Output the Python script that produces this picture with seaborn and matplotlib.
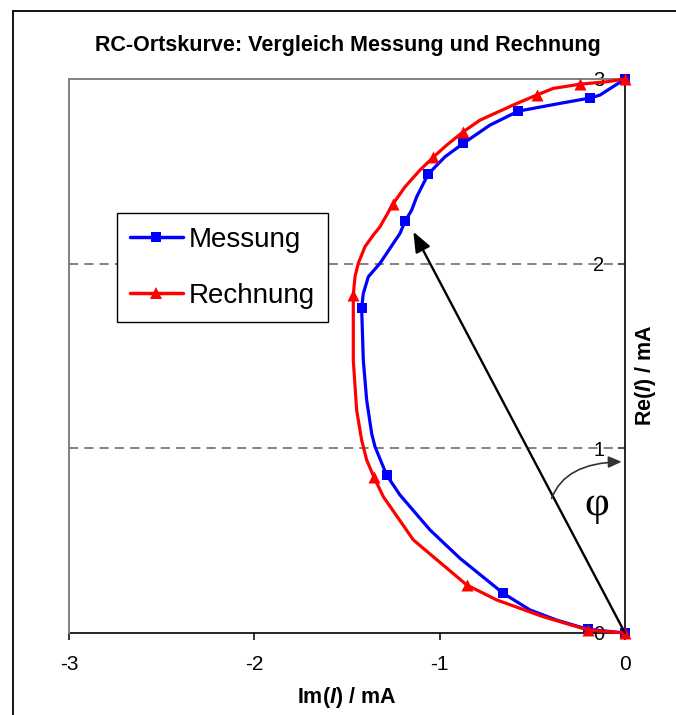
import matplotlib
matplotlib.use("Agg")
import matplotlib.pyplot as plt
import seaborn as sns
import pandas as pd
from matplotlib.lines import Line2D
from matplotlib.patches import FancyArrowPatch
from matplotlib.path import Path

# ---------------- data ----------------
meas_x = [0.0, -0.200, -0.657, -1.286, -1.421, -1.186, -1.062, -0.873, -0.576, -0.189, 0.0]
meas_y = [0.0, 0.020, 0.215, 0.855, 1.758, 2.231, 2.485, 2.651, 2.826, 2.897, 3.0]
calc_x = [0.0, -0.198, -0.854, -1.355, -1.466, -1.252, -1.035, -0.873, -0.477, -0.243, 0.0]
calc_y = [0.0, 0.016, 0.260, 0.845, 1.830, 2.323, 2.576, 2.714, 2.913, 2.972, 3.0]

meas_line_x = [0.0, -0.200, -0.369, -0.513, -0.657, -0.890, -1.052, -1.214, -1.286, -1.349,
               -1.367, -1.394, -1.412, -1.421, -1.412, -1.385, -1.322, -1.214, -1.186, -1.151,
               -1.124, -1.062, -0.971, -0.873, -0.729, -0.576, -0.351, -0.189, -0.135, 0.0]
meas_line_y = [0.0, 0.020, 0.070, 0.125, 0.215, 0.404, 0.558, 0.747, 0.855, 1.009,
               1.081, 1.262, 1.478, 1.758, 1.839, 1.929, 2.002, 2.164, 2.231, 2.290,
               2.362, 2.485, 2.579, 2.651, 2.750, 2.826, 2.868, 2.897, 2.913, 3.0]
calc_line_x = [0.0, -0.198, -0.441, -0.692, -0.854, -1.142, -1.304, -1.355, -1.394, -1.421,
               -1.448, -1.466, -1.466, -1.457, -1.439, -1.403, -1.358, -1.322, -1.252, -1.187,
               -1.106, -1.035, -0.962, -0.873, -0.783, -0.603, -0.477, -0.387, -0.243, -0.099, 0.0]
calc_line_y = [0.0, 0.016, 0.088, 0.179, 0.260, 0.504, 0.738, 0.845, 0.937, 1.045,
               1.207, 1.478, 1.830, 1.929, 2.002, 2.092, 2.155, 2.200, 2.323, 2.416,
               2.507, 2.576, 2.642, 2.714, 2.777, 2.859, 2.913, 2.949, 2.972, 2.985, 3.0]

pointer_tip = (-1.142, 2.173)          # current phasor arrow
x_ticks = [-3, -2, -1, 0]
y_ticks = [0, 1, 2, 3]
series_names = ["Messung", "Rechnung"]
title = "RC-Ortskurve: Vergleich Messung und Rechnung"

# ---------------- style ----------------
sns.set_theme(style="white")
plt.rcParams["font.family"] = ["Liberation Sans", "DejaVu Sans"]
plt.rcParams["mathtext.fontset"] = "custom"
plt.rcParams["mathtext.bf"] = "Liberation Sans:bold:italic"
plt.rcParams["text.color"] = "black"
plt.rcParams["axes.labelcolor"] = "black"
plt.rcParams["xtick.color"] = "black"
plt.rcParams["ytick.color"] = "black"

BLUE = "#0000FF"
RED = "#FF0000"

W, H = 676, 715
fig = plt.figure(figsize=(W / 100, H / 100), dpi=100)
fig.patch.set_facecolor("white")
ax = fig.add_axes([69 / W, 1 - 633 / H, (625 - 69) / W, (633 - 79) / H])
ax.set_facecolor("white")

# grid lines
for yv in [1, 2]:
    ax.axhline(yv, color="#606060", lw=1.1, ls=(0, (6, 4)), zorder=1)

# curves
sns.lineplot(x=meas_line_x, y=meas_line_y, sort=False, estimator=None, ax=ax,
             color=BLUE, lw=2.3, clip_on=False, zorder=3)
sns.scatterplot(x=meas_x, y=meas_y, ax=ax, marker="s", color=BLUE, s=50,
                linewidth=0, clip_on=False, zorder=4)
sns.lineplot(x=calc_line_x, y=calc_line_y, sort=False, estimator=None, ax=ax,
             color=RED, lw=2.3, clip_on=False, zorder=5)
sns.scatterplot(x=calc_x, y=calc_y, ax=ax, marker="^", color=RED, s=75,
                linewidth=0, clip_on=False, zorder=6)

ax.set_xlim(-3, 0)
ax.set_ylim(0, 3)

# spines
for s in ["top", "left"]:
    ax.spines[s].set_color("#808080")
    ax.spines[s].set_linewidth(1.4)
for s in ["bottom", "right"]:
    ax.spines[s].set_color("black")
    ax.spines[s].set_linewidth(1.2)
    ax.spines[s].set_zorder(2)

ax.set_xticks(x_ticks)
ax.set_xticklabels([str(v) for v in x_ticks])
ax.set_yticks(y_ticks)
ax.set_yticklabels([str(v) for v in y_ticks])
ax.tick_params(axis="x", bottom=True, top=False, direction="out", length=5,
               width=1.1, color="black", labelsize=15, pad=11, labelcolor="black")
ax.yaxis.tick_right()
ax.tick_params(axis="y", left=False, right=True, labelleft=False, labelright=True,
               direction="in", length=5, width=1.1, color="black",
               labelsize=14.5, pad=-23, labelcolor="black")
ax.grid(False)

# axis labels
ax.set_xlabel(r"Im($\mathbf{I}$) / mA", fontsize=15.5, fontweight="bold",
              va="center", ha="center", color="black")
ax.xaxis.set_label_coords(0.5, -0.117)
ax.text(1.036, 0.466, r"Re($\mathbf{I}$) / mA", transform=ax.transAxes,
        rotation=90, fontsize=15.5, fontweight="bold", ha="center", va="center",
        color="black")

# title
fig.text(348 / W, 1 - 45 / H, title, fontsize=15.5, fontweight="bold",
         ha="center", va="center", color="black")

# phasor arrow
ax.annotate("", xy=pointer_tip, xytext=(0, 0),
            arrowprops=dict(arrowstyle="-|>,head_length=0.55,head_width=0.22",
                            color="black", lw=1.7, mutation_scale=22,
                            shrinkA=0, shrinkB=0), zorder=7)

# phi angle arrow
arc = Path([(-0.396, 0.729), (-0.324, 0.922), (-0.018, 0.927)],
           [Path.MOVETO, Path.CURVE3, Path.CURVE3])
ax.add_patch(FancyArrowPatch(path=arc, arrowstyle="-|>,head_length=0.5,head_width=0.22",
                             mutation_scale=16, color="#333333", lw=1.2,
                             transform=ax.transData, zorder=7))
ax.text(-0.153, 0.693, "φ", fontsize=31, family=["Liberation Serif", "DejaVu Serif"],
        ha="center", va="center", color="black")

# legend
handles = [
    Line2D([], [], color=BLUE, lw=2.5, marker="s", markersize=7, markeredgewidth=0),
    Line2D([], [], color=RED, lw=2.5, marker="^", markersize=8.5, markeredgewidth=0),
]
leg = fig.legend(handles, series_names, loc="upper left",
                 bbox_to_anchor=(116.7 / W, 1 - 213.3 / H), borderaxespad=0,
                 fontsize=20, frameon=True, fancybox=False, framealpha=1,
                 edgecolor="black", handlelength=1.9, handletextpad=0.2,
                 labelspacing=1.08, borderpad=0.48, numpoints=1)
leg.get_frame().set_linewidth(1.0)
for t in leg.get_texts():
    t.set_color("black")

# outer chart-area frame (left and top edges visible in the reference)
fig.add_artist(Line2D([13 / W, 13 / W], [0, 1 - 11 / H], color="black", lw=1.3,
                      transform=fig.transFigure))
fig.add_artist(Line2D([13 / W, 1], [1 - 11 / H, 1 - 11 / H], color="black", lw=1.3,
                      transform=fig.transFigure))

fig.savefig("out.png", dpi=100)
